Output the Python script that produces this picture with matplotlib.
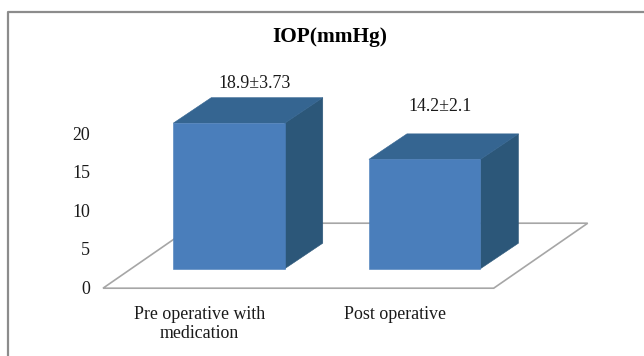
import matplotlib
matplotlib.use("Agg")
import matplotlib.pyplot as plt
from matplotlib.patches import Polygon, Rectangle

categories = ["Pre operative with\nmedication", "Post operative"]
values = [18.9, 14.2]
value_labels = ["18.9±3.73", "14.2±2.1"]
y_ticks = [0, 5, 10, 15, 20]

W, H = 644, 356
# pixels per category and per y unit in the reference
x_unit = 195.7
y_unit = 7.7
bar_w = 111.5 / x_unit
dx = 38 / x_unit
dy = 25.5 / y_unit
floor_drop = 19.5 / y_unit
text_col = "#1a1a1a"

plt.rcParams['font.family'] = ['Liberation Serif', 'DejaVu Serif']

fig = plt.figure(figsize=(W / 100, H / 100), dpi=100)
ax = fig.add_axes([0, 0, 1, 1])
ax.set_xlim(-229 / x_unit, (W - 229) / x_unit)
ax.set_ylim((268.7 - H) / y_unit, 268.7 / y_unit)
ax.axis("off")


def px(x, y):
    # reference pixel to figure fraction
    return x / W, 1 - y / H


# outer frame, only left and top show up
frame_x = [px(8, H)[0], px(8, 0)[0], 1]
frame_y = [0, px(0, 11.5)[1], px(0, 11.5)[1]]
fig.add_artist(plt.Line2D(frame_x, frame_y, transform=fig.transFigure, color="#8c8c8c", lw=1.6))

# floor
x0 = -126 / x_unit
x1 = 1 + 69 / x_unit
back = 65 / y_unit - floor_drop
floor = [(x0, -floor_drop), (x1, -floor_drop), (x1 + 94 / x_unit, back), (x0 + 94 / x_unit, back)]
ax.add_patch(Polygon(floor, closed=True, fc="white", ec="#a6a6a6", lw=1.2, zorder=1))

# value label spots, pixels from the bar centre and from the front top edge
label_shift = [(26, 40), (15, 53)]

# 3d bars
for i, v in enumerate(values):
    l = i - bar_w / 2
    r = i + bar_w / 2
    ax.add_patch(Polygon([(r, 0), (r + dx, dy), (r + dx, v + dy), (r, v)], fc="#2c5779", ec="#2c5779", lw=0.4, zorder=2))
    ax.add_patch(Polygon([(l, v), (r, v), (r + dx, v + dy), (l + dx, v + dy)], fc="#356591", ec="#356591", lw=0.4, zorder=2))
    ax.add_patch(Rectangle((l, 0), bar_w, v, fc="#4a7ebb", ec="#4a7ebb", lw=0.4, zorder=3))
    ax.text(i + label_shift[i][0] / x_unit, v + label_shift[i][1] / y_unit, value_labels[i],
            ha="center", va="center", fontsize=12.9, color=text_col)
    ax.text(i - 0.15, -floor_drop - 2.35, categories[i], ha="center", va="top",
            fontsize=12.9, color=text_col, linespacing=1.12)

for t in y_ticks:
    ax.text(-229 / x_unit + 90 / x_unit, t - floor_drop - 0.16, str(t), ha="right", va="center",
            fontsize=12.9, color=text_col)

ax.text(329.5 / W, 1 - 37 / H, "IOP(mmHg)", transform=ax.transAxes, ha="center", va="center",
        fontsize=15.4, fontweight="bold", color="black")

fig.savefig("out.png", dpi=100)
